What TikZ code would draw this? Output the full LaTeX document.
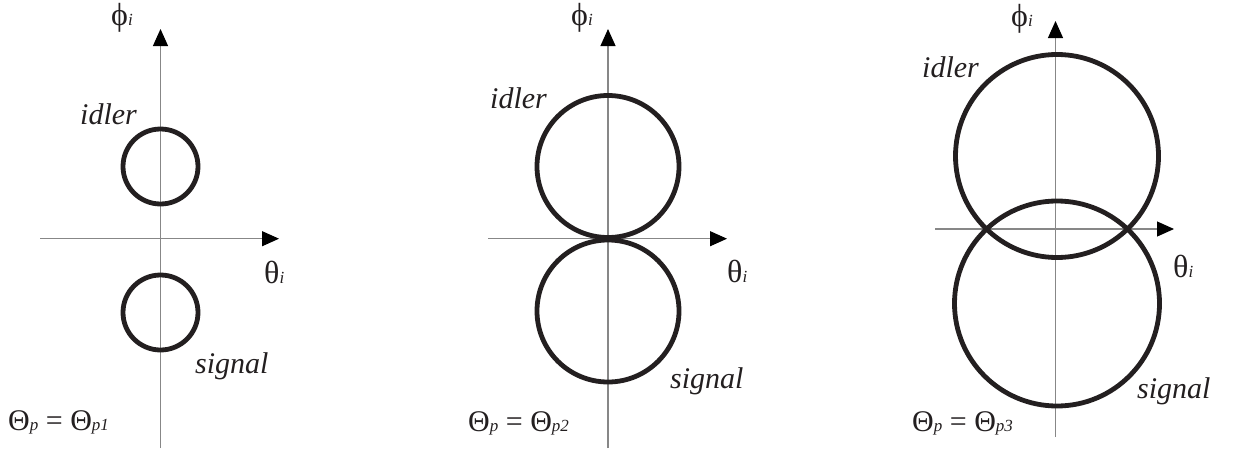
\documentclass[tikz,border=0pt]{standalone}
\usepackage{fontspec}
\setmainfont{Liberation Serif}
\usetikzlibrary{arrows.meta}
\definecolor{axisgray}{RGB}{135,135,135}
\definecolor{ringblack}{RGB}{35,31,32}
\newcommand\smallsub[1]{{\fontsize{17}{17}\selectfont\itshape #1}}
\tikzset{
  axis/.style={draw=axisgray, line width=1.1pt, -{Triangle[length=17pt,width=15pt,color=black]}},
  ring/.style={circle, draw=ringblack, line width=4.8pt, inner sep=0pt, outer sep=0pt},
  lbl/.style={anchor=base west, inner sep=0pt, text=ringblack, font=\fontsize{30}{30}\selectfont\itshape},
  sym/.style={anchor=base west, inner sep=0pt, text=ringblack, font=\fontsize{32}{32}\selectfont},
  formula/.style={anchor=base west, inner sep=0pt, text=ringblack, font=\fontsize{30}{30}\selectfont},
}
\begin{document}
\begin{tikzpicture}[x=1pt,y=-1pt]
\useasboundingbox (0,0) rectangle (1247,450);

% ---------- panel 1 ----------
\coordinate (v1s) at (160.5,448); \coordinate (v1e) at (160.5,29);
\coordinate (h1s) at (40,238.7);  \coordinate (h1e) at (279,238.7);
\draw[axis] (v1s) -- (v1e);
\draw[axis] (h1s) -- (h1e);
\node[ring, minimum size=75pt] (i1) at (160.5,166.5) {};
\node[ring, minimum size=75pt] (s1) at (160.5,312.5) {};
\node[lbl] (li1) at (80,124) {idler};
\node[lbl] (ls1) at (195,373) {signal};
\node[sym] (phi1) at (111,25) {ϕ\smallsub{i}};
\node[sym] (th1) at (264,283) {θ\smallsub{i}};
\node[formula] (f1) at (8,430) {Θ\smallsub{p} = Θ\smallsub{p1}};

% ---------- panel 2 ----------
\coordinate (v2s) at (608,448); \coordinate (v2e) at (608,29);
\coordinate (h2s) at (488,238.7); \coordinate (h2e) at (727,238.7);
\draw[axis] (v2s) -- (v2e);
\draw[axis] (h2s) -- (h2e);
\node[ring, minimum size=142pt] (i2) at (608,166.5) {};
\node[ring, minimum size=142pt] (s2) at (608,311) {};
\node[lbl] (li2) at (490,108) {idler};
\node[lbl] (ls2) at (670,388) {signal};
\node[sym] (phi2) at (571,25) {ϕ\smallsub{i}};
\node[sym] (th2) at (727,282) {θ\smallsub{i}};
\node[formula] (f2) at (468,431) {Θ\smallsub{p} = Θ\smallsub{p2}};

% ---------- panel 3 ----------
\coordinate (v3s) at (1055.5,437); \coordinate (v3e) at (1055.5,21);
\coordinate (h3s) at (935,229);    \coordinate (h3e) at (1174,229);
\draw[axis] (v3s) -- (v3e);
\draw[axis] (h3s) -- (h3e);
\node[ring, minimum size=203pt] (i3) at (1057,156) {};
\node[ring, minimum size=205pt] (s3) at (1057,303.5) {};
\node[lbl] (li3) at (922,77) {idler};
\node[lbl] (ls3) at (1137,398) {signal};
\node[sym] (phi3) at (1011,26) {ϕ\smallsub{i}};
\node[sym] (th3) at (1173,277) {θ\smallsub{i}};
\node[formula] (f3) at (912,431) {Θ\smallsub{p} = Θ\smallsub{p3}};
\end{tikzpicture}
\end{document}
